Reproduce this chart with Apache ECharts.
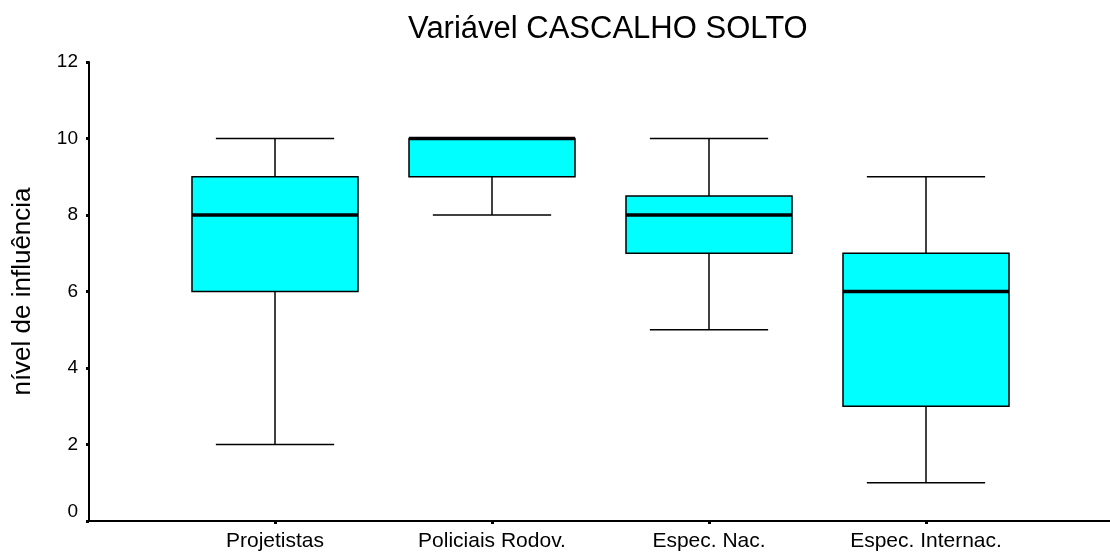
<!DOCTYPE html>
<html lang="pt">

<head>
    <meta charset="UTF-8">
    <title>Variável CASCALHO SOLTO</title>
    <script src="https://cdnjs.cloudflare.com/ajax/libs/echarts/6.0.0/echarts.min.js"></script>
    <style>
        body { margin: 0; background: #fff; }
    </style>
</head>

<body>
    <div id="main" style="width: 1110px;height:560px;"></div>

    <script>
        // dados
        const categories = ['Projetistas', 'Policiais Rodov.', 'Espec. Nac.', 'Espec. Internac.'];
        const mins = [2, 8, 5, 1];
        const q1s = [6, 9, 7, 3];
        const medians = [8, 10, 8, 6];
        const q3s = [9, 10, 8.5, 7];
        const maxs = [10, 10, 10, 9];
        const yTicks = [0, 2, 4, 6, 8, 10, 12];

        const boxData = categories.map((c, i) => [i + 1, mins[i], q1s[i], medians[i], q3s[i], maxs[i]]);

        const myChart = echarts.init(document.getElementById('main'));

        function renderBox(params, api) {
            const x = api.value(0);
            const pMin = api.coord([x, api.value(1)]);
            const pQ1 = api.coord([x, api.value(2)]);
            const pMed = api.coord([x, api.value(3)]);
            const pQ3 = api.coord([x, api.value(4)]);
            const pMax = api.coord([x, api.value(5)]);
            const unit = api.size([1, 0])[0];
            const boxW = unit * 0.765;
            const capW = unit * 0.545;
            const line = { stroke: '#000', lineWidth: 1.5 };
            return {
                type: 'group',
                children: [
                    { type: 'line', shape: { x1: pMin[0], y1: pMin[1], x2: pQ1[0], y2: pQ1[1] }, style: line },
                    { type: 'line', shape: { x1: pQ3[0], y1: pQ3[1], x2: pMax[0], y2: pMax[1] }, style: line },
                    { type: 'line', shape: { x1: pMin[0] - capW / 2, y1: pMin[1], x2: pMin[0] + capW / 2, y2: pMin[1] }, style: line },
                    { type: 'line', shape: { x1: pMax[0] - capW / 2, y1: pMax[1], x2: pMax[0] + capW / 2, y2: pMax[1] }, style: line },
                    {
                        type: 'rect',
                        shape: { x: pQ3[0] - boxW / 2, y: pQ3[1], width: boxW, height: pQ1[1] - pQ3[1] },
                        style: { fill: '#00FFFF', stroke: '#000', lineWidth: 1.5 }
                    },
                    { type: 'line', shape: { x1: pMed[0] - boxW / 2, y1: pMed[1], x2: pMed[0] + boxW / 2, y2: pMed[1] }, style: { stroke: '#000', lineWidth: 3.5 } }
                ]
            };
        }

        let option = {
            backgroundColor: '#fff',
            animation: false,
            textStyle: { fontFamily: 'Liberation Sans' },
            title: {
                text: 'Variável CASCALHO SOLTO',
                left: 403,
                top: 9,
                textStyle: { fontSize: 31, fontWeight: 'normal', color: '#000', fontFamily: 'Liberation Sans' }
            },
            grid: { left: 89, right: 0, top: 62, bottom: 39, outerBoundsMode: 'none' },
            xAxis: {
                type: 'value',
                min: 1 / 7,
                max: 4 + 184 / 217,
                splitLine: { show: false },
                axisLine: { show: true, lineStyle: { color: '#000', width: 2 } },
                axisTick: { show: true, length: 3, lineStyle: { color: '#000', width: 3 }, customValues: [1, 2, 3, 4] },
                axisLabel: {
                    customValues: [1, 2, 3, 4],
                    formatter: (v) => categories[Math.round(v) - 1] || '',
                    color: '#000', fontSize: 21, margin: 10, fontFamily: 'Liberation Sans'
                }
            },
            yAxis: {
                type: 'value',
                min: 0,
                max: 12,
                interval: 2,
                name: 'nível de influência',
                nameLocation: 'middle',
                nameGap: 53,
                nameTextStyle: { fontSize: 26, color: '#000', fontFamily: 'Liberation Sans' },
                splitLine: { show: false },
                axisLine: { show: true, lineStyle: { color: '#000', width: 2 } },
                axisTick: { show: true, length: 3, lineStyle: { color: '#000', width: 3 } },
                axisLabel: {
                    color: '#000', fontSize: 19, margin: 11, fontFamily: 'Liberation Sans',
                    formatter: (v) => !yTicks.includes(v) ? '' : (v === 0 ? '{z|0}' : String(v)),
                    rich: { z: { fontSize: 19, color: '#000', fontFamily: 'Liberation Sans', padding: [0, 0, 18, 0] } }
                }
            },
            series: [
                {
                    type: 'custom',
                    renderItem: renderBox,
                    encode: { x: 0, y: [1, 2, 3, 4, 5] },
                    data: boxData,
                    clip: false
                }
            ]
        };

        myChart.setOption(option);
    </script>
</body>

</html>
